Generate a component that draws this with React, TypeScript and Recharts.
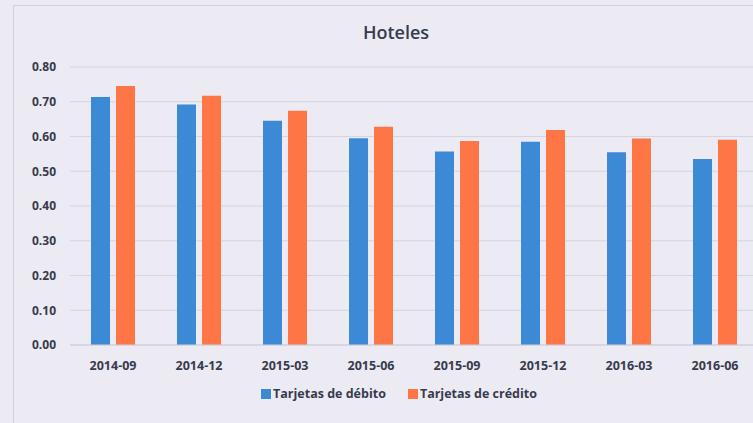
import { BarChart, Bar, XAxis, YAxis, CartesianGrid, Legend } from 'recharts'

const periods = ['2014-09', '2014-12', '2015-03', '2015-06', '2015-09', '2015-12', '2016-03', '2016-06']
const debito = [0.714, 0.692, 0.645, 0.595, 0.557, 0.585, 0.555, 0.535]
const credito = [0.745, 0.717, 0.674, 0.628, 0.587, 0.619, 0.594, 0.591]
const yTicks = [0, 0.1, 0.2, 0.3, 0.4, 0.5, 0.6, 0.7, 0.8]

const BLUE = '#3C8AD5'
const ORANGE = '#FF7646'
const TEXT = '#363B4E'
const FONT = '"Open Sans", "Liberation Sans", sans-serif'

const data = periods.map((p, i) => ({
  periodo: p,
  debito: debito[i],
  credito: credito[i],
}))

function LegendContent() {
  const items = [
    { label: 'Tarjetas de débito', color: BLUE },
    { label: 'Tarjetas de crédito', color: ORANGE },
  ]
  return (
    <div style={{ display: 'flex', justifyContent: 'center', gap: 22, paddingLeft: 40, fontFamily: FONT, fontWeight: 700, fontSize: 12.5, color: TEXT }}>
      {items.map((it) => (
        <div key={it.label} style={{ display: 'flex', alignItems: 'center' }}>
          <span style={{ width: 10, height: 10, background: it.color, display: 'inline-block', marginRight: 2 }} />
          <span>{it.label}</span>
        </div>
      ))}
    </div>
  )
}

export default function App() {
  return (
    <div style={{ position: 'fixed', left: 0, top: 0, width: 753, height: 423, overflow: 'hidden', background: '#ECEAF2' }}>
      <div style={{ position: 'absolute', left: 13, top: 5, width: 800, height: 500, borderLeft: '1px solid #D2D0DA', borderTop: '1px solid #D2D0DA' }} />
      <div style={{ position: 'absolute', left: 396, top: 20, transform: 'translateX(-50%)', fontFamily: FONT, fontWeight: 600, fontSize: 18, color: TEXT }}>
        Hoteles
      </div>
      <div style={{ position: 'absolute', left: 0, top: 0 }}>
        <BarChart
          width={770}
          height={423}
          data={data}
          margin={{ top: 67, right: 12, left: 0, bottom: 14 }}
          barSize={19}
          barGap={6}
        >
          <CartesianGrid vertical={false} stroke="#D6D4DE" />
          <XAxis
            dataKey="periodo"
            height={40}
            axisLine={{ stroke: '#CFCDD8' }}
            tickLine={false}
            tickMargin={10}
            tick={{ fill: TEXT, fontSize: 12.5, fontWeight: 700, fontFamily: FONT }}
          />
          <YAxis
            width={70}
            domain={[0, 0.8]}
            ticks={yTicks}
            axisLine={false}
            tickLine={false}
            tickMargin={8}
            tickFormatter={(v: number) => v.toFixed(2)}
            tick={{ fill: TEXT, fontSize: 12, fontWeight: 700, fontFamily: FONT }}
          />
          <Legend verticalAlign="bottom" align="center" height={24} content={<LegendContent />} />
          <Bar dataKey="debito" name="Tarjetas de débito" fill={BLUE} isAnimationActive={false} />
          <Bar dataKey="credito" name="Tarjetas de crédito" fill={ORANGE} isAnimationActive={false} />
        </BarChart>
      </div>
    </div>
  )
}
